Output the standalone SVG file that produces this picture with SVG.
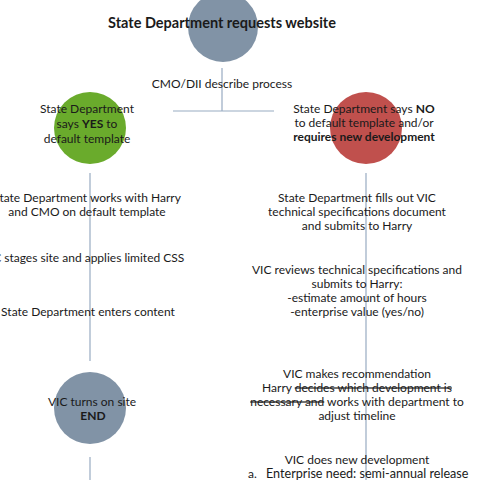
<svg xmlns="http://www.w3.org/2000/svg" width="480" height="480" viewBox="0 0 480 480">
<style>
text{font-family:Lato,"Noto Sans","DejaVu Sans",sans-serif;font-size:12px;fill:#1a1a1a;text-anchor:middle}
.b{font-weight:bold}
.t{font-size:14.5px;font-weight:bold}
.ln{stroke:#98abc2;stroke-width:1.2;fill:none}
.grey{fill:#8193a6}
.green{fill:#6aab2c}
.red{fill:#c0504d}
.s{text-decoration:line-through}
.l{text-anchor:start}
</style>
<rect width="480" height="480" fill="#fff"/>
<g id="connectors">
<path class="ln" d="M222 68V111M173 111H274"/>
<path class="ln" d="M90 173V361"/>
<path class="ln" d="M90 457V480"/>
<path class="ln" d="M366 173V480"/>
</g>
<g id="start">
<circle class="grey" cx="223" cy="27" r="35"/>
<text class="t" x="222" y="28">State Department requests website</text>
</g>
<g id="describe">
<text x="222" y="88">CMO/DII describe process</text>
</g>
<g id="yes">
<circle class="green" cx="90" cy="128" r="36"/>
<text x="87" y="113">State Department</text>
<text x="87" y="128">says <tspan class="b">YES</tspan> to</text>
<text x="87" y="143">default template</text>
</g>
<g id="no">
<circle class="red" cx="366" cy="128" r="36"/>
<text x="364" y="113">State Department says <tspan class="b">NO</tspan></text>
<text x="364" y="127">to default template and/or</text>
<text x="364" y="141" class="b">requires new development</text>
</g>
<g id="left1">
<text x="87" y="202">State Department works with Harry</text>
<text x="87" y="216">and CMO on default template</text>
</g>
<g id="left2">
<text x="83" y="262">VIC stages site and applies limited CSS</text>
</g>
<g id="left3">
<text x="88" y="316">State Department enters content</text>
</g>
<g id="end">
<circle class="grey" cx="90" cy="408" r="36"/>
<text x="92" y="406">VIC turns on site</text>
<text x="93" y="420" class="b">END</text>
</g>
<g id="right1">
<text x="357" y="202">State Department fills out VIC</text>
<text x="357" y="216">technical specifications document</text>
<text x="357" y="230">and submits to Harry</text>
</g>
<g id="right2">
<text x="357" y="274">VIC reviews technical specifications and</text>
<text x="357" y="288">submits to Harry:</text>
<text x="357" y="302">-estimate amount of hours</text>
<text x="357" y="316">-enterprise value (yes/no)</text>
</g>
<g id="right3">
<text x="357" y="378">VIC makes recommendation</text>
<text x="357" y="392">Harry <tspan class="s">decides which development is</tspan></text>
<text x="357" y="406"><tspan class="s">necessary and</tspan> works with department to</text>
<text x="357" y="420">adjust timeline</text>
</g>
<g id="right4">
<text x="357" y="464">VIC does new development</text>
<text class="l" x="248" y="478">a.</text>
<text class="l" x="266" y="478" style="font-size:12.6px">Enterprise need: semi-annual release</text>
</g>
</svg>
